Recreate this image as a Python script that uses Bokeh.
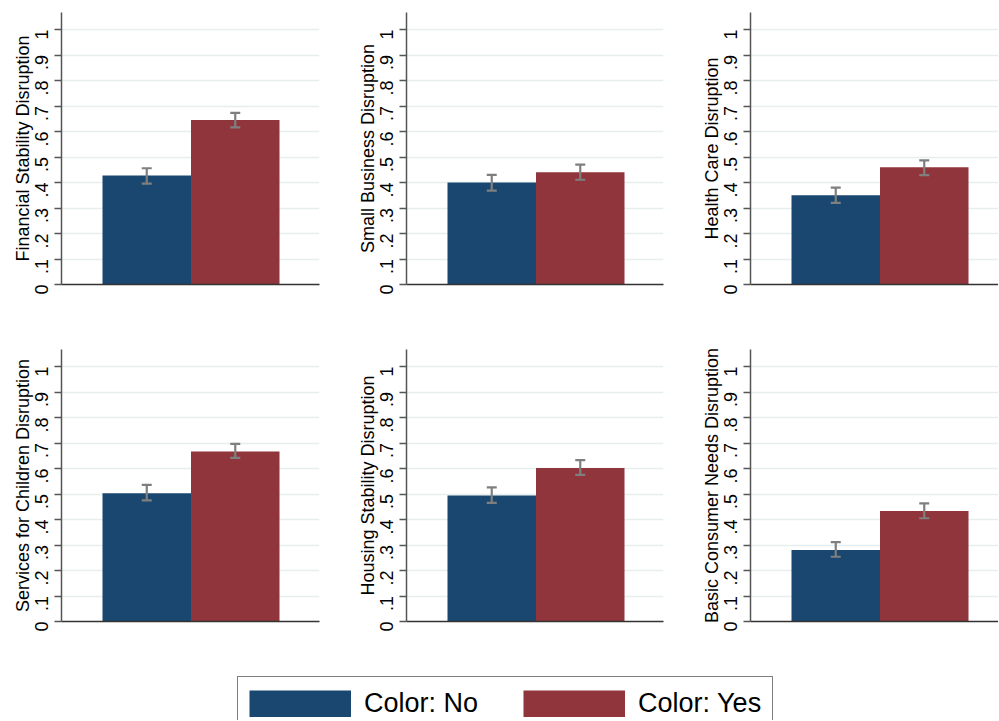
import math
from bokeh.plotting import figure
from bokeh.models import (ColumnDataSource, FixedTicker, Whisker, TeeHead, Legend,
                          LegendItem, Range1d, Spacer)
from bokeh.layouts import column, row
from bokeh.embed import file_html
from bokeh.resources import INLINE

# ---------------- data ----------------
panel_titles = [
    "Financial Stability Disruption",
    "Small Business Disruption",
    "Health Care Disruption",
    "Services for Children Disruption",
    "Housing Stability Disruption",
    "Basic Consumer Needs Disruption",
]
groups = ["Color: No", "Color: Yes"]
group_x = [1, 2]

no_mean = [0.428, 0.400, 0.350, 0.503, 0.494, 0.280]
no_lo = [0.396, 0.368, 0.320, 0.475, 0.465, 0.254]
no_hi = [0.456, 0.430, 0.380, 0.536, 0.526, 0.311]

yes_mean = [0.645, 0.440, 0.460, 0.667, 0.602, 0.433]
yes_lo = [0.616, 0.411, 0.429, 0.642, 0.575, 0.405]
yes_hi = [0.673, 0.470, 0.487, 0.697, 0.633, 0.463]

y_ticks = [0, 0.1, 0.2, 0.3, 0.4, 0.5, 0.6, 0.7, 0.8, 0.9, 1]
y_tick_labels = ["0", ".1", ".2", ".3", ".4", ".5", ".6", ".7", ".8", ".9", "1"]

# ---------------- style ----------------
BLUE = "#1a476f"
RED = "#90353b"
FONT = "Liberation Sans"
PX_PER_UNIT = 88.5
X0 = 0.5 - 41 / PX_PER_UNIT


def make_panel(i, width, left, frame_w, top, bottom):
    height = top + 272 + bottom
    p = figure(width=width, height=height,
               x_range=Range1d(X0, X0 + frame_w / PX_PER_UNIT),
               y_range=Range1d(0, 1.067),
               toolbar_location=None, output_backend="svg",
               min_border_left=left, min_border_right=width - left - frame_w,
               min_border_top=top, min_border_bottom=bottom)
    src = ColumnDataSource(dict(
        x=group_x,
        top=[no_mean[i], yes_mean[i]],
        lo=[no_lo[i], yes_lo[i]],
        hi=[no_hi[i], yes_hi[i]],
        color=[BLUE, RED],
    ))
    p.vbar(x="x", top="top", width=1, fill_color="color", line_color=None, source=src)
    w = Whisker(base="x", upper="hi", lower="lo", source=src,
                line_color="#7f7f7f", line_width=2.2, level="overlay",
                upper_head=TeeHead(size=10, line_color="#7f7f7f", line_width=2.2),
                lower_head=TeeHead(size=10, line_color="#7f7f7f", line_width=2.2))
    p.add_layout(w)

    p.outline_line_color = None
    p.xgrid.visible = False
    p.ygrid.ticker = FixedTicker(ticks=y_ticks)
    p.ygrid.grid_line_color = "#e6eff0"
    p.ygrid.grid_line_width = 1.5

    ya = p.yaxis[0]
    ya.ticker = FixedTicker(ticks=y_ticks)
    ya.major_label_overrides = dict(zip(y_ticks, y_tick_labels))
    ya.major_label_orientation = math.pi / 2
    ya.major_label_text_font = FONT
    ya.major_label_text_font_size = "18px"
    ya.major_label_text_color = "black"
    ya.major_label_standoff = 13
    ya.major_tick_out = 7
    ya.major_tick_in = 0
    ya.minor_tick_line_color = None
    ya.major_tick_line_color = "#555555"
    ya.major_tick_line_width = 1.5
    ya.axis_line_color = "#555555"
    ya.axis_line_width = 1.5
    ya.axis_label = panel_titles[i]
    ya.axis_label_text_font = FONT
    ya.axis_label_text_font_size = "18px"
    ya.axis_label_text_font_style = "normal"
    ya.axis_label_text_color = "black"
    ya.axis_label_standoff = -7

    xa = p.xaxis[0]
    xa.ticker = FixedTicker(ticks=[])
    xa.major_label_text_font_size = "0px"
    xa.major_tick_line_color = None
    xa.minor_tick_line_color = None
    xa.axis_line_color = "#333333"
    xa.axis_line_width = 1.5
    return p


widths = [353, 344, 301]
lefts = [61, 53, 53]
frame_ws = [258, 257, 248]

row1 = [make_panel(i, widths[i], lefts[i], frame_ws[i], 12, 60) for i in range(3)]
row2 = [make_panel(i + 3, widths[i], lefts[i], frame_ws[i], 5, 55) for i in range(3)]

# ---------------- legend ----------------
lf = figure(width=998 - 237, height=44, x_range=Range1d(0, 3), y_range=Range1d(5, 6),
            toolbar_location=None, output_backend="svg", min_border=0,
            x_axis_type=None, y_axis_type=None)
lf.outline_line_color = None
lf.grid.visible = False
rn = lf.line(x=group_x, y=no_mean[:2], line_width=27, line_color=BLUE, line_cap="butt")
ry = lf.line(x=group_x, y=yes_mean[:2], line_width=27, line_color=RED, line_cap="butt")
leg = Legend(items=[LegendItem(label=groups[0], renderers=[rn]),
                    LegendItem(label=groups[1], renderers=[ry])],
             location="top_left", orientation="horizontal", margin=0,
             padding=11, spacing=45, label_standoff=13,
             glyph_width=102, glyph_height=27,
             label_text_font=FONT, label_text_font_size="27px",
             label_text_color="black",
             border_line_color="black", border_line_width=1.5,
             background_fill_color="white", background_fill_alpha=1)
lf.add_layout(leg, "center")

layout = column(row(*row1), row(*row2), row(Spacer(width=237, height=44), lf))

with open("out.html", "w") as f:
    f.write(file_html(layout, INLINE))
